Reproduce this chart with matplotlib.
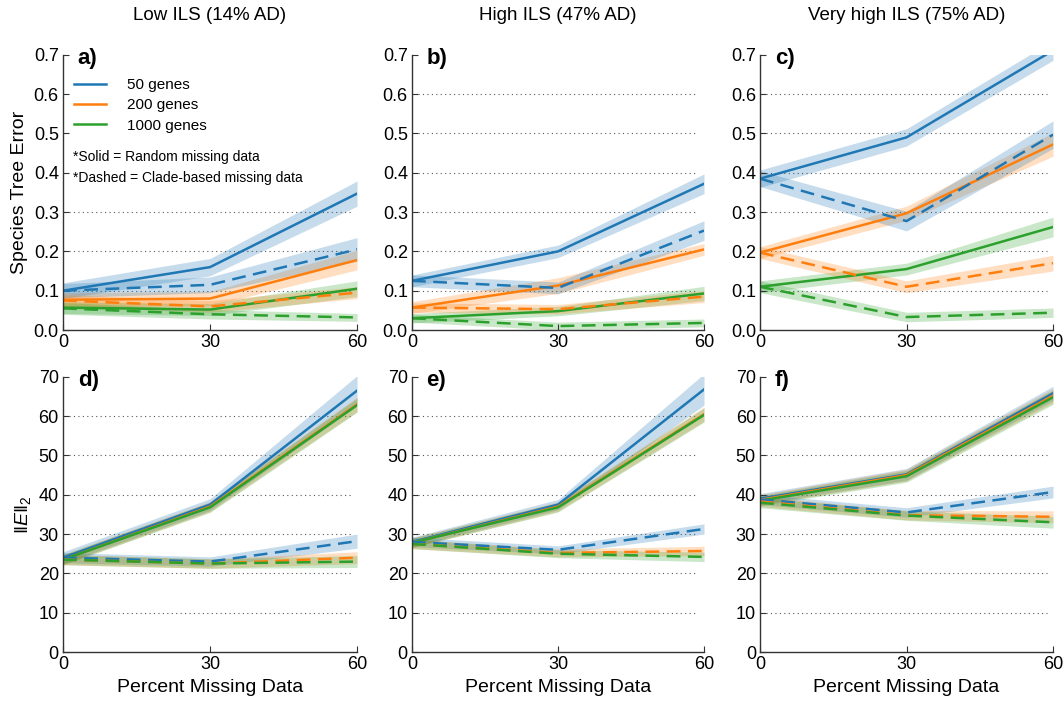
import matplotlib
matplotlib.use("Agg")
import matplotlib.pyplot as plt
import matplotlib.patches as mpatches
import numpy as np

plt.rcParams['font.family'] = ['Liberation Sans', 'DejaVu Sans']
plt.rcParams['mathtext.fontset'] = 'custom'
plt.rcParams['mathtext.it'] = 'Liberation Sans:italic'
plt.rcParams['mathtext.rm'] = 'Liberation Sans'

missing = [0, 30, 60]
genes = ['50 genes', '200 genes', '1000 genes']
col_titles = ['Low ILS (14% AD)', 'High ILS (47% AD)', 'Very high ILS (75% AD)']
panel_tags = ['a)', 'b)', 'c)', 'd)', 'e)', 'f)']
colors = ['#1f77b4', '#ff7f0e', '#2ca02c']

# species tree error, solid = random missing, dashed = clade-based
err_rand = [
    [[0.100, 0.160, 0.347], [0.077, 0.080, 0.178], [0.057, 0.052, 0.105]],
    [[0.125, 0.200, 0.372], [0.057, 0.113, 0.205], [0.030, 0.048, 0.093]],
    [[0.385, 0.490, 0.711], [0.197, 0.297, 0.472], [0.110, 0.155, 0.262]],
]
err_rand_sd = [
    [[0.020, 0.022, 0.032], [0.018, 0.018, 0.025], [0.015, 0.015, 0.020]],
    [[0.015, 0.016, 0.025], [0.015, 0.020, 0.015], [0.012, 0.012, 0.018]],
    [[0.022, 0.022, 0.025], [0.015, 0.018, 0.030], [0.015, 0.015, 0.025]],
]
err_clade = [
    [[0.100, 0.115, 0.205], [0.075, 0.060, 0.095], [0.055, 0.040, 0.032]],
    [[0.125, 0.107, 0.253], [0.057, 0.053, 0.085], [0.030, 0.010, 0.018]],
    [[0.385, 0.277, 0.497], [0.197, 0.110, 0.170], [0.110, 0.033, 0.044]],
]
err_clade_sd = [
    [[0.018, 0.020, 0.030], [0.015, 0.015, 0.015], [0.015, 0.012, 0.010]],
    [[0.015, 0.015, 0.025], [0.012, 0.012, 0.015], [0.010, 0.010, 0.010]],
    [[0.020, 0.025, 0.035], [0.015, 0.015, 0.020], [0.015, 0.012, 0.012]],
]

# ||E||_2
norm_rand = [
    [[24.0, 37.5, 66.5], [23.5, 37.0, 63.0], [23.5, 36.8, 62.8]],
    [[28.0, 37.5, 66.8], [27.8, 37.0, 60.5], [27.8, 36.8, 60.3]],
    [[39.0, 45.2, 65.8], [38.7, 45.0, 65.2], [38.5, 44.7, 64.8]],
]
norm_rand_sd = [
    [[1.5, 1.5, 3.8], [1.3, 1.3, 1.8], [1.3, 1.3, 1.8]],
    [[1.2, 1.3, 4.0], [1.2, 1.2, 1.8], [1.2, 1.2, 1.8]],
    [[1.3, 1.5, 1.8], [1.3, 1.5, 1.8], [1.3, 1.5, 1.8]],
]
norm_clade = [
    [[24.0, 23.0, 28.2], [23.5, 22.5, 24.0], [23.5, 22.5, 23.0]],
    [[28.0, 26.0, 31.3], [27.5, 25.2, 25.7], [27.5, 25.0, 24.2]],
    [[38.8, 35.5, 40.7], [38.3, 34.8, 34.4], [38.0, 34.7, 33.0]],
]
norm_clade_sd = [
    [[1.3, 1.2, 1.8], [1.3, 1.2, 1.5], [1.3, 1.2, 1.5]],
    [[1.2, 1.0, 1.3], [1.2, 1.0, 1.2], [1.2, 1.0, 1.2]],
    [[1.3, 1.2, 1.5], [1.3, 1.2, 1.5], [1.3, 1.2, 1.5]],
]

fig = plt.figure(figsize=(10.63, 7.02), dpi=100)
lefts = [0.0593, 0.3876, 0.7150]
widths = [0.2766, 0.2747, 0.2756]
bottoms = [0.5299, 0.0712]
height = 0.392

x = np.array(missing)
for row in range(2):
    for col in range(3):
        ax = fig.add_axes([lefts[col], bottoms[row], widths[col], height])
        if row == 0:
            sets = [(err_rand, err_rand_sd, '-'), (err_clade, err_clade_sd, (0, (5.5, 3)))]
        else:
            sets = [(norm_rand, norm_rand_sd, '-'), (norm_clade, norm_clade_sd, (0, (5.5, 3)))]
        for vals, sds, ls in sets:
            for g in range(3):
                y = np.array(vals[col][g])
                s = np.array(sds[col][g])
                ax.fill_between(x, y - s, y + s, color=colors[g], alpha=0.25, lw=0)
                ax.plot(x, y, color=colors[g], ls=ls, lw=1.8,
                        label=genes[g] if ls == '-' else None)
        ax.set_xlim(0, 60)
        ax.set_xticks(missing)
        if row == 0:
            ax.set_ylim(0, 0.7)
            ax.set_yticks(np.arange(0, 0.71, 0.1))
            ax.yaxis.set_major_formatter(plt.FormatStrFormatter('%.1f'))
            ax.set_title(col_titles[col], fontsize=13.5, pad=25)
        else:
            ax.set_ylim(0, 70)
            ax.set_yticks(np.arange(0, 71, 10))
            ax.set_xlabel('Percent Missing Data', fontsize=14, labelpad=4)
        for yv in ax.get_yticks()[1:-1]:
            ax.axhline(yv, xmin=0.02, xmax=0.98, color='#555555', ls=(0, (1, 3)),
                       lw=0.8, zorder=0)
        for sp in ['top', 'right']:
            ax.spines[sp].set_visible(False)
        for sp in ['left', 'bottom']:
            ax.spines[sp].set_color('#333333')
            ax.spines[sp].set_linewidth(1.0)
        ax.tick_params(direction='in', length=4, labelsize=13, pad=3, color='#333333')
        ax.text(0.05, 0.985, panel_tags[row * 3 + col], transform=ax.transAxes,
                fontsize=16, fontweight='bold', va='center', ha='left')
        if row == 0 and col == 0:
            ax.set_ylabel('Species Tree Error', fontsize=14, labelpad=4)
            # white area behind the legend and notes
            ax.add_patch(mpatches.Rectangle((0.01, 0.47), 0.99, 0.47, transform=ax.transAxes,
                                            facecolor='white', edgecolor='none', zorder=0.5))
            leg = ax.legend(loc='upper left', bbox_to_anchor=(0.0, 0.955), frameon=False,
                            fontsize=11, handlelength=2.1, labelspacing=0.42,
                            borderpad=0.2, handletextpad=1.4)
            ax.text(0.035, 0.655, '*Solid = Random missing data\n*Dashed = Clade-based missing data',
                    transform=ax.transAxes, fontsize=10, va='top', ha='left', linespacing=1.65)
        if row == 1 and col == 0:
            ax.set_ylabel(r'$\|E\|_2$', fontsize=14, labelpad=4)

fig.savefig('out.png', dpi=100)
